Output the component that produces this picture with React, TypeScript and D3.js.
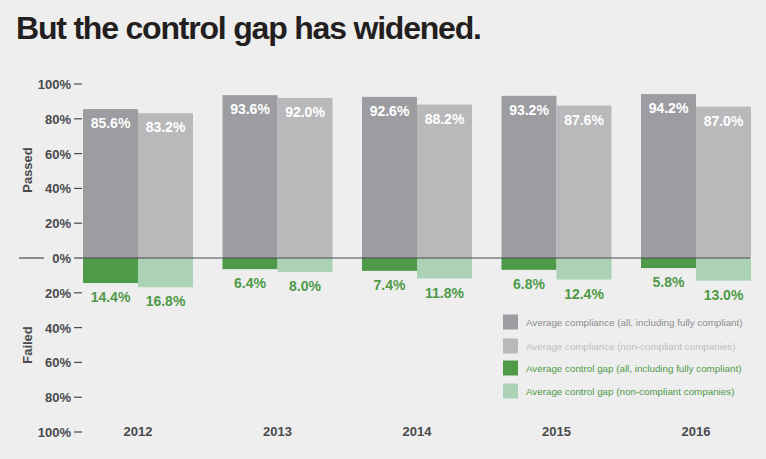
import React from "react";
import * as d3 from "d3";

const years = ["2012", "2013", "2014", "2015", "2016"];
const allPassed = [85.6, 93.6, 92.6, 93.2, 94.2];
const nonCompliantPassed = [83.2, 92.0, 88.2, 87.6, 87.0];
const allGap = [14.4, 6.4, 7.4, 6.8, 5.8];
const nonCompliantGap = [16.8, 8.0, 11.8, 12.4, 13.0];
const yTicks = [100, 80, 60, 40, 20, 0, -20, -40, -60, -80, -100];
const legendItems = [
  "Average compliance (all, including fully compliant)",
  "Average compliance (non-compliant companies)",
  "Average control gap (all, including fully compliant)",
  "Average control gap (non-compliant companies)",
];

const W = 766;
const H = 459;
const BG = "#eeeeee";
const DARK = "#9d9da1";
const LIGHT = "#b9b9bb";
const GREEN = "#4e9a48";
const LGREEN = "#abd2b5";
const AXIS = "#4a4a4c";
const FONT = "'Liberation Sans', Arial, Helvetica, sans-serif";

export default function App() {
  const y = d3.scaleLinear().domain([-100, 100]).range([432, 84]);
  const x = d3
    .scaleBand<string>()
    .domain(years)
    .range([68.5, 765.5])
    .paddingInner(0.2115)
    .paddingOuter(0.104);
  const sub = d3
    .scaleBand<string>()
    .domain(["all", "nc"])
    .range([0, x.bandwidth()]);
  const bw = sub.bandwidth();
  const legendColors = [DARK, LIGHT, GREEN, LGREEN];
  const legendText = ["#8c8c90", "#bdbdbf", GREEN, GREEN];
  const legendY = [322, 346, 368, 391];

  return (
    <svg
      width={W}
      height={H}
      style={{ position: "absolute", left: 0, top: 0, display: "block" }}
      fontFamily={FONT}
    >
      <rect x={0} y={0} width={W} height={H} fill={BG} />
      <text
        x={16}
        y={39}
        fontSize={32}
        fontWeight={700}
        fill="#231f20"
        letterSpacing={-1.2}
        style={{ WebkitTextStroke: "0.7px #231f20" } as any}
      >
        But the control gap has widened.
      </text>

      {/* y axis */}
      {yTicks.map((t) => (
        <g key={t}>
          <text
            x={71}
            y={y(t) + 5}
            textAnchor="end"
            fontSize={13}
            fontWeight={700}
            fill={AXIS}
          >
            {Math.abs(t)}%
          </text>
          <line x1={74} x2={82} y1={y(t)} y2={y(t)} stroke={AXIS} strokeWidth={1.2} />
        </g>
      ))}
      <text
        transform={`translate(32,${170}) rotate(-90)`}
        textAnchor="middle"
        fontSize={13}
        fontWeight={700}
        fill={AXIS}
      >
        Passed
      </text>
      <text
        transform={`translate(32,${345}) rotate(-90)`}
        textAnchor="middle"
        fontSize={13}
        fontWeight={700}
        fill={AXIS}
      >
        Failed
      </text>

      {/* bars */}
      {years.map((yr, i) => {
        const x0 = x(yr) as number;
        const xa = x0 + (sub("all") as number);
        const xn = x0 + (sub("nc") as number);
        return (
          <g key={yr}>
            <rect x={xa} y={y(allPassed[i])} width={bw} height={y(0) - y(allPassed[i])} fill={DARK} />
            <rect x={xn} y={y(nonCompliantPassed[i])} width={bw} height={y(0) - y(nonCompliantPassed[i])} fill={LIGHT} />
            <rect x={xa} y={y(0)} width={bw} height={y(-allGap[i]) - y(0)} fill={GREEN} />
            <rect x={xn} y={y(0)} width={bw} height={y(-nonCompliantGap[i]) - y(0)} fill={LGREEN} />
            <text x={xa + bw / 2} y={y(allPassed[i]) + 19} textAnchor="middle" fontSize={14} fontWeight={700} fill="#fff">
              {allPassed[i].toFixed(1)}%
            </text>
            <text x={xn + bw / 2} y={y(nonCompliantPassed[i]) + 19} textAnchor="middle" fontSize={14} fontWeight={700} fill="#fff">
              {nonCompliantPassed[i].toFixed(1)}%
            </text>
            <text x={xa + bw / 2} y={y(-allGap[i]) + 19} textAnchor="middle" fontSize={14} fontWeight={700} fill={GREEN}>
              {allGap[i].toFixed(1)}%
            </text>
            <text x={xn + bw / 2} y={y(-nonCompliantGap[i]) + 19} textAnchor="middle" fontSize={14} fontWeight={700} fill={GREEN}>
              {nonCompliantGap[i].toFixed(1)}%
            </text>
            <text x={x0 + x.bandwidth() / 2} y={436} textAnchor="middle" fontSize={13} fontWeight={700} fill={AXIS}>
              {yr}
            </text>
          </g>
        );
      })}

      {/* zero line */}
      <line x1={19} x2={44} y1={y(0)} y2={y(0)} stroke={AXIS} strokeWidth={1.2} />
      <line x1={82} x2={750} y1={y(0)} y2={y(0)} stroke={AXIS} strokeWidth={1.2} />

      {/* legend */}
      {legendItems.map((l, i) => (
        <g key={l}>
          <rect x={503} y={legendY[i] - 7.5} width={15} height={15} fill={legendColors[i]} />
          <text x={526} y={legendY[i] + 3.5} fontSize={9.8} fill={legendText[i]}>
            {l}
          </text>
        </g>
      ))}
    </svg>
  );
}
